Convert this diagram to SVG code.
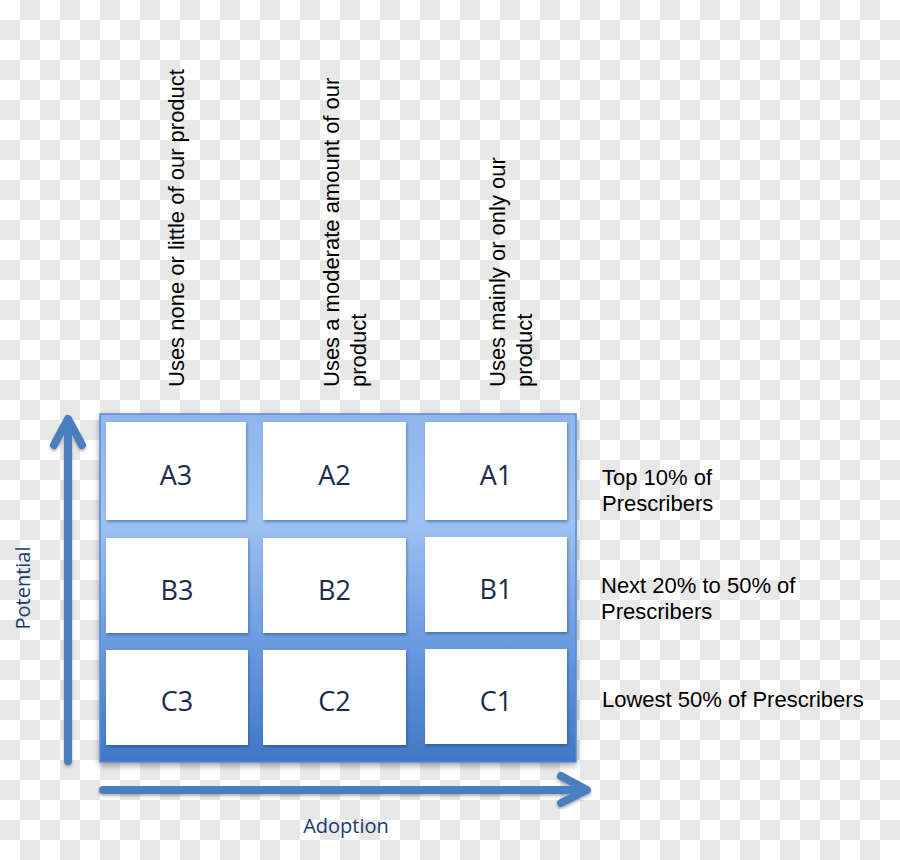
<svg xmlns="http://www.w3.org/2000/svg" width="900" height="860" viewBox="0 0 900 860">
<defs>
<linearGradient id="boxGrad" x1="0" y1="0" x2="0" y2="1">
<stop offset="0" stop-color="#8fb5ec"/>
<stop offset="0.3" stop-color="#9fc2f3"/>
<stop offset="0.65" stop-color="#6c9be0"/>
<stop offset="1" stop-color="#3f77c6"/>
</linearGradient>
<filter id="shadow" x="-10%" y="-10%" width="120%" height="125%">
<feDropShadow dx="0" dy="3" stdDeviation="3" flood-color="#000" flood-opacity="0.35"/>
</filter>
<filter id="cellShadow" x="-10%" y="-10%" width="125%" height="130%">
<feDropShadow dx="1" dy="2" stdDeviation="1.5" flood-color="#1a3a70" flood-opacity="0.45"/>
</filter>
<filter id="lineShadow" x="-20%" y="-20%" width="140%" height="140%">
<feDropShadow dx="0" dy="2" stdDeviation="1.5" flood-color="#000" flood-opacity="0.3"/>
</filter>
<style>
.cell{fill:#ffffff;filter:url(#cellShadow);}
.lbl{font-family:"Open Sans","DejaVu Sans",sans-serif;font-size:27px;fill:#1c2b4c;text-anchor:middle;}
.axis{font-family:"Open Sans","DejaVu Sans",sans-serif;font-size:20px;fill:#20396e;text-anchor:middle;}
.hdr{font-family:"Liberation Sans",Arial,sans-serif;font-size:22px;fill:#000000;}
.arrow{stroke:#4a7ebf;stroke-width:8;fill:none;stroke-linecap:round;stroke-linejoin:round;filter:url(#lineShadow);}
.dash{stroke:#4f81c4;stroke-width:4;fill:none;stroke-dasharray:14 12;filter:url(#lineShadow);}
</style>
</defs>
<g id="background">
<rect width="900" height="860" fill="#ffffff"/>
<path fill="#e8e8e8" fill-rule="evenodd" d="M20 0h20v20h-20z M60 0h20v20h-20z M100 0h20v20h-20z M140 0h20v20h-20z M180 0h20v20h-20z M220 0h20v20h-20z M260 0h20v20h-20z M300 0h20v20h-20z M340 0h20v20h-20z M380 0h20v20h-20z M420 0h20v20h-20z M460 0h20v20h-20z M500 0h20v20h-20z M540 0h20v20h-20z M580 0h20v20h-20z M620 0h20v20h-20z M660 0h20v20h-20z M700 0h20v20h-20z M740 0h20v20h-20z M780 0h20v20h-20z M820 0h20v20h-20z M860 0h20v20h-20z"/>
<path stroke="#e8e8e8" stroke-width="20" stroke-dasharray="20 20" fill="none" d="M0 30H900M20 50H900M0 70H900M20 90H900M0 110H900M20 130H900M0 150H900M20 170H900M0 190H900M20 210H900M0 230H900M20 250H900M0 270H900M20 290H900M0 310H900M20 330H900M0 350H900M20 370H900M0 390H900M20 410H900M0 430H900M20 450H900M0 470H900M20 490H900M0 510H900M20 530H900M0 550H900M20 570H900M0 590H900M20 610H900M0 630H900M20 650H900M0 670H900M20 690H900M0 710H900M20 730H900M0 750H900M20 770H900M0 790H900M20 810H900M0 830H900M20 850H900"/>
</g>

<g id="grid-frame">
<rect x="100" y="414" width="476" height="348" fill="url(#boxGrad)" stroke="#5a8ad2" stroke-width="1.5" filter="url(#shadow)"/>
</g>

<g id="A3"><rect class="cell" x="106" y="422" width="140" height="98"/><text class="lbl" x="176" y="485">A3</text></g>
<g id="A2"><rect class="cell" x="263" y="422" width="143" height="98"/><text class="lbl" x="334.5" y="485">A2</text></g>
<g id="A1"><rect class="cell" x="425" y="422" width="142" height="98"/><text class="lbl" x="496" y="485">A1</text></g>
<g id="B3"><rect class="cell" x="106" y="538" width="142" height="95"/><text class="lbl" x="177" y="600">B3</text></g>
<g id="B2"><rect class="cell" x="263" y="538" width="143" height="95"/><text class="lbl" x="334.5" y="600">B2</text></g>
<g id="B1"><rect class="cell" x="425" y="537" width="142" height="95"/><text class="lbl" x="496" y="599">B1</text></g>
<g id="C3"><rect class="cell" x="106" y="650" width="142" height="95"/><text class="lbl" x="177" y="711">C3</text></g>
<g id="C2"><rect class="cell" x="263" y="650" width="143" height="95"/><text class="lbl" x="334.5" y="711">C2</text></g>
<g id="C1"><rect class="cell" x="425" y="649" width="142" height="95"/><text class="lbl" x="496" y="711">C1</text></g>

<g id="connectors">
<path class="arrow" d="M68 761 L68 421 M54 445 L68 419 L82 445"/>
<path class="arrow" d="M103 790 L585 790 M561 776 L587 790 L561 803"/>
<line class="dash" x1="253.5" y1="231" x2="253.5" y2="400"/>
<line class="dash" x1="418.5" y1="231" x2="418.5" y2="400"/>
<line class="dash" x1="589" y1="531" x2="800" y2="531"/>
<line class="dash" x1="587" y1="644" x2="798" y2="644"/>
</g>

<g id="axis-labels">
<text class="axis" transform="translate(30,588) rotate(-90)">Potential</text>
<text class="axis" x="346" y="833">Adoption</text>
</g>

<g id="column-headers">
<text class="hdr" transform="translate(184,387) rotate(-90)">Uses none or little of our product</text>
<text class="hdr" transform="translate(339,387) rotate(-90)">Uses a moderate amount of our</text>
<text class="hdr" transform="translate(366,387) rotate(-90)">product</text>
<text class="hdr" transform="translate(505,387) rotate(-90)">Uses mainly or only our</text>
<text class="hdr" transform="translate(532,387) rotate(-90)">product</text>
</g>

<g id="row-labels">
<text class="hdr" x="602" y="485">Top 10% of</text>
<text class="hdr" x="602" y="511">Prescribers</text>
<text class="hdr" x="601" y="593">Next 20% to 50% of</text>
<text class="hdr" x="601" y="619">Prescribers</text>
<text class="hdr" x="602" y="707">Lowest 50% of Prescribers</text>
</g>
</svg>
